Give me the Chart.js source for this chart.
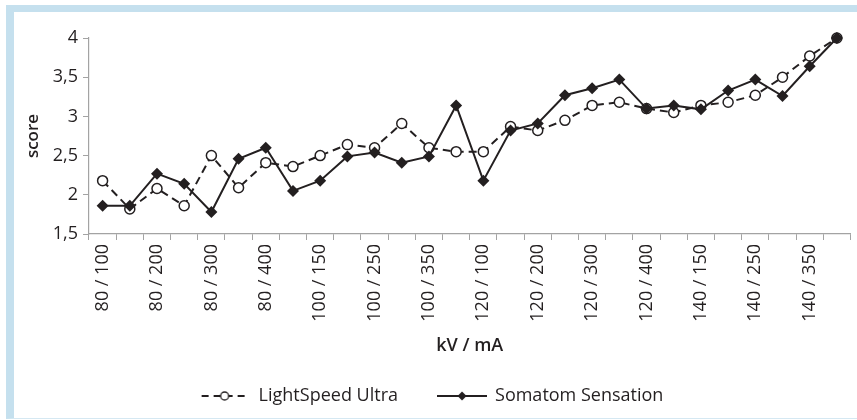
<!DOCTYPE html>
<html>
<head>
<meta charset="utf-8">
<script src="https://cdn.jsdelivr.net/npm/chart.js@4.4.0/dist/chart.umd.min.js"></script>
<style>
  html, body { margin: 0; padding: 0; background: #fff; }
  #wrap { position: relative; width: 857px; height: 420px; overflow: hidden; }
  #frame {
    position: absolute; left: 6px; top: 5px; width: 860px; height: 406px;
    border-left: 8px solid #c5e0ee; border-top: 7px solid #c5e0ee; border-bottom: 1px solid #d5e8f2;
  }
  canvas { position: absolute; left: 0; top: 0; }
</style>
</head>
<body>
<div id="wrap">
  <div id="frame"></div>
  <canvas id="chart" width="857" height="420"></canvas>
</div>
<script>
// kV / mA settings
const categories = [
  "80 / 100", "80 / 150", "80 / 200", "80 / 250", "80 / 300", "80 / 350", "80 / 400",
  "100 / 100", "100 / 150", "100 / 200", "100 / 250", "100 / 300", "100 / 350", "100 / 400",
  "120 / 100", "120 / 150", "120 / 200", "120 / 250", "120 / 300", "120 / 350", "120 / 400",
  "140 / 100", "140 / 150", "140 / 200", "140 / 250", "140 / 300", "140 / 350", "140 / 400"
];

// scores
const lightSpeed = [2.18, 1.82, 2.08, 1.86, 2.50, 2.09, 2.41, 2.36, 2.50, 2.64, 2.60, 2.91, 2.60, 2.55,
                    2.55, 2.87, 2.82, 2.95, 3.14, 3.18, 3.10, 3.05, 3.14, 3.18, 3.27, 3.50, 3.77, 4.00];
const somatom    = [1.86, 1.86, 2.27, 2.14, 1.78, 2.46, 2.60, 2.05, 2.18, 2.49, 2.54, 2.41, 2.49, 3.14,
                    2.18, 2.82, 2.91, 3.27, 3.36, 3.47, 3.10, 3.14, 3.09, 3.33, 3.47, 3.26, 3.64, 4.00];

const seriesNames = ["LightSpeed Ultra", "Somatom Sensation"];
const yTicks = [1.5, 2, 2.5, 3, 3.5, 4];

const ink = "#231f20";
const axisGray = "#a3a3a3";
const fontFamily = "'Open Sans', 'Noto Sans', sans-serif";

// legend icons: line + marker
function makeIcon(dashed) {
    const c = document.createElement("canvas");
    c.width = 50; c.height = 16;
    const g = c.getContext("2d");
    g.strokeStyle = ink;
    g.lineWidth = 2;
    g.setLineDash(dashed ? [7, 5] : []);
    g.beginPath();
    g.moveTo(dashed ? 1 : 0, 8);
    g.lineTo(dashed ? 44 : 50, 8);
    g.stroke();
    g.setLineDash([]);
    if (dashed) {
        g.beginPath();
        g.arc(24, 8, 4, 0, Math.PI * 2);
        g.fillStyle = "#fff";
        g.fill();
        g.lineWidth = 1.3;
        g.stroke();
    } else {
        g.beginPath();
        g.moveTo(25, 3.5); g.lineTo(29.5, 8); g.lineTo(25, 12.5); g.lineTo(20.5, 8);
        g.closePath();
        g.fillStyle = ink;
        g.fill();
    }
    return c;
}
const legendIcons = [makeIcon(true), makeIcon(false)];

const ctx = document.getElementById("chart").getContext("2d");

new Chart(ctx, {
    type: "line",
    data: {
        labels: categories,
        datasets: [
            {
                label: seriesNames[0],
                data: lightSpeed,
                borderColor: ink,
                borderWidth: 2,
                borderDash: [8, 5],
                pointStyle: "circle",
                pointRadius: 5,
                pointBorderWidth: 1.5,
                pointBackgroundColor: "#fff",
                pointBorderColor: ink,
                tension: 0,
                clip: false,
                order: 2
            },
            {
                label: seriesNames[1],
                data: somatom,
                borderColor: ink,
                borderWidth: 2,
                pointStyle: "rectRot",
                pointRadius: 6,
                pointBorderWidth: 0,
                pointBackgroundColor: ink,
                pointBorderColor: ink,
                tension: 0,
                clip: false,
                order: 1
            }
        ]
    },
    options: {
        responsive: false,
        animation: false,
        events: [],
        layout: { padding: { left: 14, top: 38, right: 6, bottom: 5 } },
        plugins: {
            tooltip: { enabled: false },
            legend: {
                position: "bottom",
                labels: {
                    usePointStyle: true,
                    pointStyleWidth: 48,
                    padding: 40,
                    color: ink,
                    font: { family: fontFamily, size: 18 },
                    generateLabels: chart => chart.data.datasets.map((ds, i) => ({
                        text: ds.label,
                        pointStyle: legendIcons[i],
                        datasetIndex: i,
                        hidden: false,
                        lineWidth: 0,
                        fillStyle: "transparent",
                        strokeStyle: "transparent",
                        fontColor: ink
                    }))
                }
            }
        },
        scales: {
            x: {
                type: "category",
                offset: true,
                grid: { offset: true, drawOnChartArea: false, tickLength: 6, color: axisGray },
                border: { color: axisGray, width: 1.2 },
                ticks: {
                    autoSkip: false,
                    minRotation: 90,
                    maxRotation: 90,
                    padding: 4,
                    color: ink,
                    font: { family: fontFamily, size: 18 },
                    callback: (v, i) => (i % 2 === 0 ? categories[i] : "")
                },
                title: {
                    display: true,
                    text: "kV / mA",
                    color: ink,
                    font: { family: fontFamily, size: 18, weight: "600" },
                    padding: { top: 0, bottom: -10 }
                },
                afterFit: s => {
                    s.height = 113;
                    s.paddingLeft = 0;
                    s.paddingRight = 0;
                }
            },
            y: {
                min: 1.5,
                max: 4,
                grid: { drawOnChartArea: false, tickLength: 6, color: axisGray },
                border: { color: axisGray, width: 1.2 },
                afterBuildTicks: s => { s.ticks = yTicks.map(v => ({ value: v })); },
                ticks: {
                    padding: 5,
                    color: ink,
                    font: { family: fontFamily, size: 18 },
                    callback: v => String(v).replace(".", ",")
                },
                title: {
                    display: true,
                    text: "score",
                    color: ink,
                    font: { family: fontFamily, size: 17, weight: "600" },
                    padding: { top: 9, bottom: 0 }
                },
                afterFit: s => { s.width = 75; }
            }
        }
    }
});
</script>
</body>
</html>
